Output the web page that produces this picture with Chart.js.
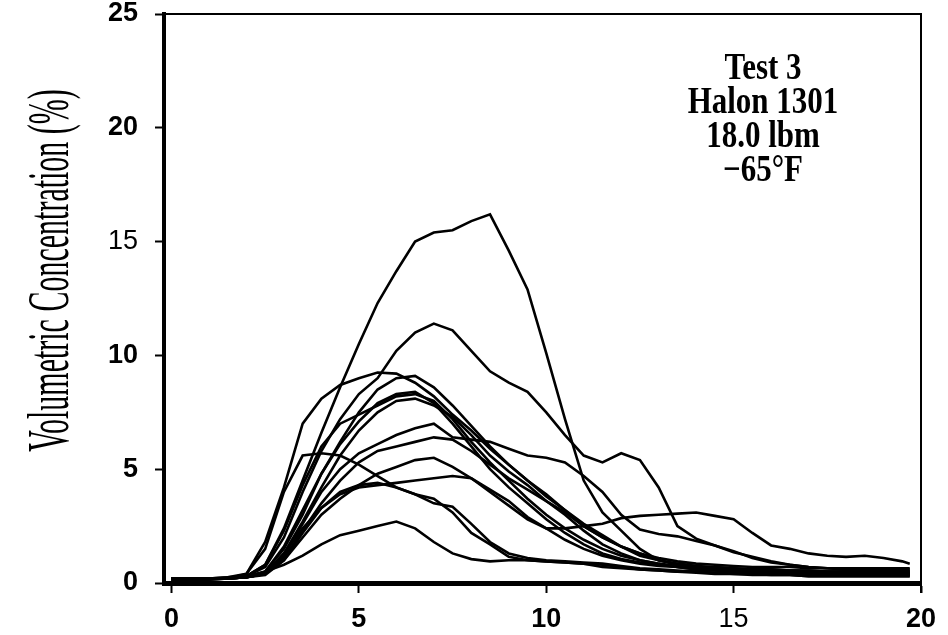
<!DOCTYPE html>
<html>
<head>
<meta charset="utf-8">
<script src="https://cdn.jsdelivr.net/npm/chart.js@4"></script>
<style>
html,body{margin:0;padding:0;background:#fff;}
#wrap{width:948px;height:635px;}
</style>
</head>
<body>
<div id="wrap"><canvas id="c" width="948" height="635"></canvas></div>
<script>
// time (s)
const times = [0,0.5,1,1.5,2,2.5,3,3.5,4,4.5,5,5.5,6,6.5,7,7.5,8,8.5,9,9.5,10,10.5,11,11.5,12,12.5,13,13.5,14,14.5,15,15.5,16,16.5,17,17.5,18,18.5,19,19.5,19.7];

// volumetric concentration (%) per sensor
const sensorA = [0.15,0.15,0.2,0.2,0.3,0.8,2.4,4.5,6.6,8.6,10.5,12.3,13.7,15.0,15.4,15.5,15.9,16.2,14.6,12.9,10.1,7.2,4.5,3.1,2.3,1.5,1.0,0.8,0.7,0.7,0.65,0.6,0.6,0.55,0.55,0.5,0.5,0.5,0.5,0.45,0.45];
const sensorB = [0.2,0.2,0.2,0.25,0.3,0.7,2.0,4.0,5.8,7.2,8.3,9.0,10.2,11.0,11.4,11.1,10.2,9.3,8.8,8.4,7.5,6.5,5.6,5.3,5.7,5.4,4.2,2.5,1.95,1.65,1.35,1.15,0.95,0.8,0.7,0.65,0.6,0.6,0.55,0.55,0.55];
const sensorC = [0.2,0.2,0.2,0.2,0.25,0.4,1.2,2.6,4.0,5.0,5.7,6.1,6.5,6.8,7.0,6.4,6.3,6.2,5.9,5.6,5.5,5.3,4.7,4.0,3.0,2.35,2.15,2.05,1.85,1.65,1.4,1.1,0.9,0.8,0.7,0.65,0.6,0.6,0.6,0.6,0.6];
const sensorD = [0.15,0.15,0.2,0.25,0.4,1.8,4.2,7.0,8.1,8.7,9.0,9.25,9.2,8.8,8.2,7.4,6.7,5.9,5.2,4.5,3.9,3.2,2.5,2.0,1.6,1.3,1.0,0.85,0.75,0.7,0.65,0.6,0.6,0.55,0.55,0.5,0.5,0.5,0.5,0.5,0.5];
const sensorE = [0.2,0.2,0.2,0.2,0.3,0.5,1.5,3.0,4.8,6.2,7.5,8.5,9.0,9.1,8.6,7.8,6.9,6.0,5.2,4.5,3.8,3.2,2.6,2.1,1.6,1.2,1.0,0.85,0.75,0.65,0.6,0.55,0.5,0.5,0.45,0.45,0.4,0.4,0.4,0.4,0.4];
const sensorF = [0.2,0.2,0.2,0.2,0.3,0.8,2.3,4.3,6.0,7.0,7.4,7.8,8.2,8.3,8.0,7.2,6.2,5.3,4.5,3.7,3.0,2.4,1.9,1.5,1.2,1.0,0.85,0.7,0.6,0.55,0.5,0.45,0.4,0.4,0.4,0.35,0.35,0.35,0.35,0.35,0.35];
const sensorG = [0.15,0.15,0.2,0.2,0.25,0.5,1.6,3.2,4.8,6.1,7.1,7.9,8.3,8.4,7.9,7.0,6.0,5.0,4.2,3.5,2.8,2.2,1.7,1.3,1.05,0.9,0.8,0.7,0.65,0.6,0.55,0.5,0.5,0.5,0.45,0.45,0.45,0.45,0.45,0.45,0.45];
const sensorH = [0.2,0.2,0.2,0.2,0.25,0.4,1.3,2.7,4.2,5.6,6.7,7.5,8.0,8.1,7.8,7.3,6.5,5.6,4.9,4.3,3.6,3.0,2.3,1.7,1.3,1.0,0.85,0.75,0.7,0.65,0.6,0.6,0.55,0.55,0.5,0.5,0.5,0.5,0.5,0.5,0.5];
const sensorI = [0.2,0.2,0.2,0.2,0.25,0.4,1.1,2.3,3.5,4.5,5.3,5.8,6.0,6.2,6.4,6.3,5.8,5.2,4.6,4.1,3.6,3.1,2.5,2.0,1.6,1.3,1.1,0.95,0.85,0.8,0.75,0.7,0.7,0.7,0.65,0.65,0.65,0.65,0.65,0.65,0.65];
const sensorJ = [0.2,0.2,0.2,0.2,0.25,0.4,1.3,2.4,3.3,3.9,4.2,4.3,4.4,4.5,4.6,4.7,4.6,4.1,3.6,2.9,2.4,1.9,1.5,1.2,1.0,0.85,0.75,0.7,0.6,0.55,0.5,0.5,0.45,0.45,0.4,0.4,0.4,0.4,0.4,0.4,0.4];
const sensorK = [0.15,0.15,0.15,0.2,0.4,1.5,4.0,5.6,5.7,5.6,5.2,4.7,4.2,3.9,3.7,3.1,2.2,1.7,1.15,1.0,0.95,0.9,0.85,0.8,0.7,0.6,0.55,0.5,0.45,0.4,0.4,0.35,0.35,0.35,0.3,0.3,0.3,0.3,0.3,0.3,0.3];
const sensorL = [0.15,0.15,0.15,0.2,0.25,0.5,0.8,1.2,1.7,2.1,2.3,2.5,2.7,2.4,1.8,1.3,1.05,0.95,1.0,1.0,0.95,0.9,0.85,0.7,0.65,0.6,0.55,0.5,0.5,0.45,0.45,0.4,0.4,0.4,0.35,0.35,0.35,0.35,0.35,0.35,0.35];
const sensorM = [0.2,0.2,0.2,0.2,0.25,0.4,1.0,2.2,3.3,4.0,4.3,4.4,4.2,3.9,3.5,3.35,2.6,1.8,1.3,1.1,1.0,0.95,0.9,0.85,0.75,0.65,0.6,0.55,0.5,0.45,0.4,0.4,0.35,0.35,0.3,0.3,0.3,0.3,0.3,0.3,0.3];
const sensorN = [0.2,0.2,0.2,0.2,0.25,0.35,1.0,2.0,3.0,3.7,4.3,4.8,5.1,5.4,5.5,5.1,4.6,4.0,3.4,2.8,2.4,2.4,2.5,2.6,2.85,2.95,3.0,3.05,3.1,2.95,2.8,2.2,1.65,1.5,1.3,1.2,1.15,1.2,1.1,0.95,0.85];

const xTickValues = [0,5,10,15,20];
const yTickValues = [0,5,10,15,20,25];
const yTitle = 'Volumetric Concentration (%)';
const noteLines = ['Test 3','Halon 1301','18.0 lbm','\u221265\u00B0F'];

const allSensors = [sensorA,sensorB,sensorC,sensorD,sensorE,sensorF,sensorG,sensorH,sensorI,sensorJ,sensorK,sensorL,sensorM,sensorN];

const datasets = allSensors.map(vals => ({
  data: vals.map((v, i) => ({x: times[i], y: v})),
  borderColor: '#000',
  borderWidth: 2.6,
  pointRadius: 0,
  tension: 0,
  fill: false
}));

const tickFont = (ctx) => ({
  family: '"Liberation Sans", Arial, sans-serif',
  size: 27,
  weight: (ctx.tick && ctx.tick.value === 15) ? 'normal' : 'bold',
  lineHeight: 1.0
});

const framePlugin = {
  id: 'frame',
  afterDatasetsDraw(chart) {
    const {ctx, chartArea: a} = chart;
    ctx.save();
    ctx.strokeStyle = '#000';
    ctx.lineWidth = 2;
    ctx.beginPath();
    ctx.moveTo(a.left, a.top);
    ctx.lineTo(a.right, a.top);
    ctx.lineTo(a.right, a.bottom + 10);
    ctx.stroke();
    ctx.restore();
  }
};

const textPlugin = {
  id: 'texts',
  afterDraw(chart) {
    const {ctx, chartArea: a} = chart;
    // y-axis title, rotated and stretched like the scan
    ctx.save();
    ctx.fillStyle = '#000';
    ctx.translate(a.left - 96, (a.top + a.bottom) / 2 - 28);
    ctx.rotate(-Math.PI / 2);
    ctx.scale(1, 2.0);
    ctx.font = '30px "Liberation Serif", "Times New Roman", serif';
    ctx.textAlign = 'center';
    ctx.textBaseline = 'alphabetic';
    ctx.fillText(yTitle, 0, 0);
    ctx.restore();
    // annotation
    ctx.save();
    ctx.fillStyle = '#000';
    ctx.font = 'bold 31px "Liberation Serif", "Times New Roman", serif';
    ctx.textAlign = 'center';
    ctx.textBaseline = 'alphabetic';
    noteLines.forEach((line, i) => {
      ctx.save();
      ctx.translate(a.right - 158, a.top + 65 + i * 34);
      ctx.scale(1, 1.2);
      ctx.fillText(line, 0, 0);
      ctx.restore();
    });
    ctx.restore();
  }
};

new Chart(document.getElementById('c'), {
  type: 'line',
  data: { datasets },
  options: {
    responsive: false,
    animation: false,
    devicePixelRatio: 1,
    layout: { padding: { left: 0, right: 27, top: 14, bottom: 0 } },
    plugins: { legend: { display: false }, tooltip: { enabled: false } },
    scales: {
      x: {
        type: 'linear',
        min: -0.2,
        max: 20,
        afterBuildTicks: (s) => { s.ticks = xTickValues.map(v => ({value: v})); },
        afterFit: (s) => { s.height = 52; s.paddingLeft = 0; s.paddingRight = 0; },
        ticks: { color: '#000', font: tickFont, padding: 13, maxRotation: 0, autoSkip: false },
        grid: { drawOnChartArea: false, drawTicks: true, tickLength: 10, tickWidth: 2, tickColor: '#000' },
        border: { display: true, color: '#000', width: 5 }
      },
      y: {
        type: 'linear',
        min: 0,
        max: 25,
        afterBuildTicks: (s) => { s.ticks = yTickValues.map(v => ({value: v})); },
        afterFit: (s) => { s.width = 164; s.paddingTop = 0; s.paddingBottom = 0; },
        ticks: { color: '#000', font: tickFont, padding: 17, autoSkip: false },
        grid: { drawOnChartArea: false, drawTicks: true, tickLength: 9, tickWidth: 2, tickColor: '#000' },
        border: { display: true, color: '#000', width: 4 }
      }
    }
  },
  plugins: [framePlugin, textPlugin]
});
</script>
</body>
</html>
